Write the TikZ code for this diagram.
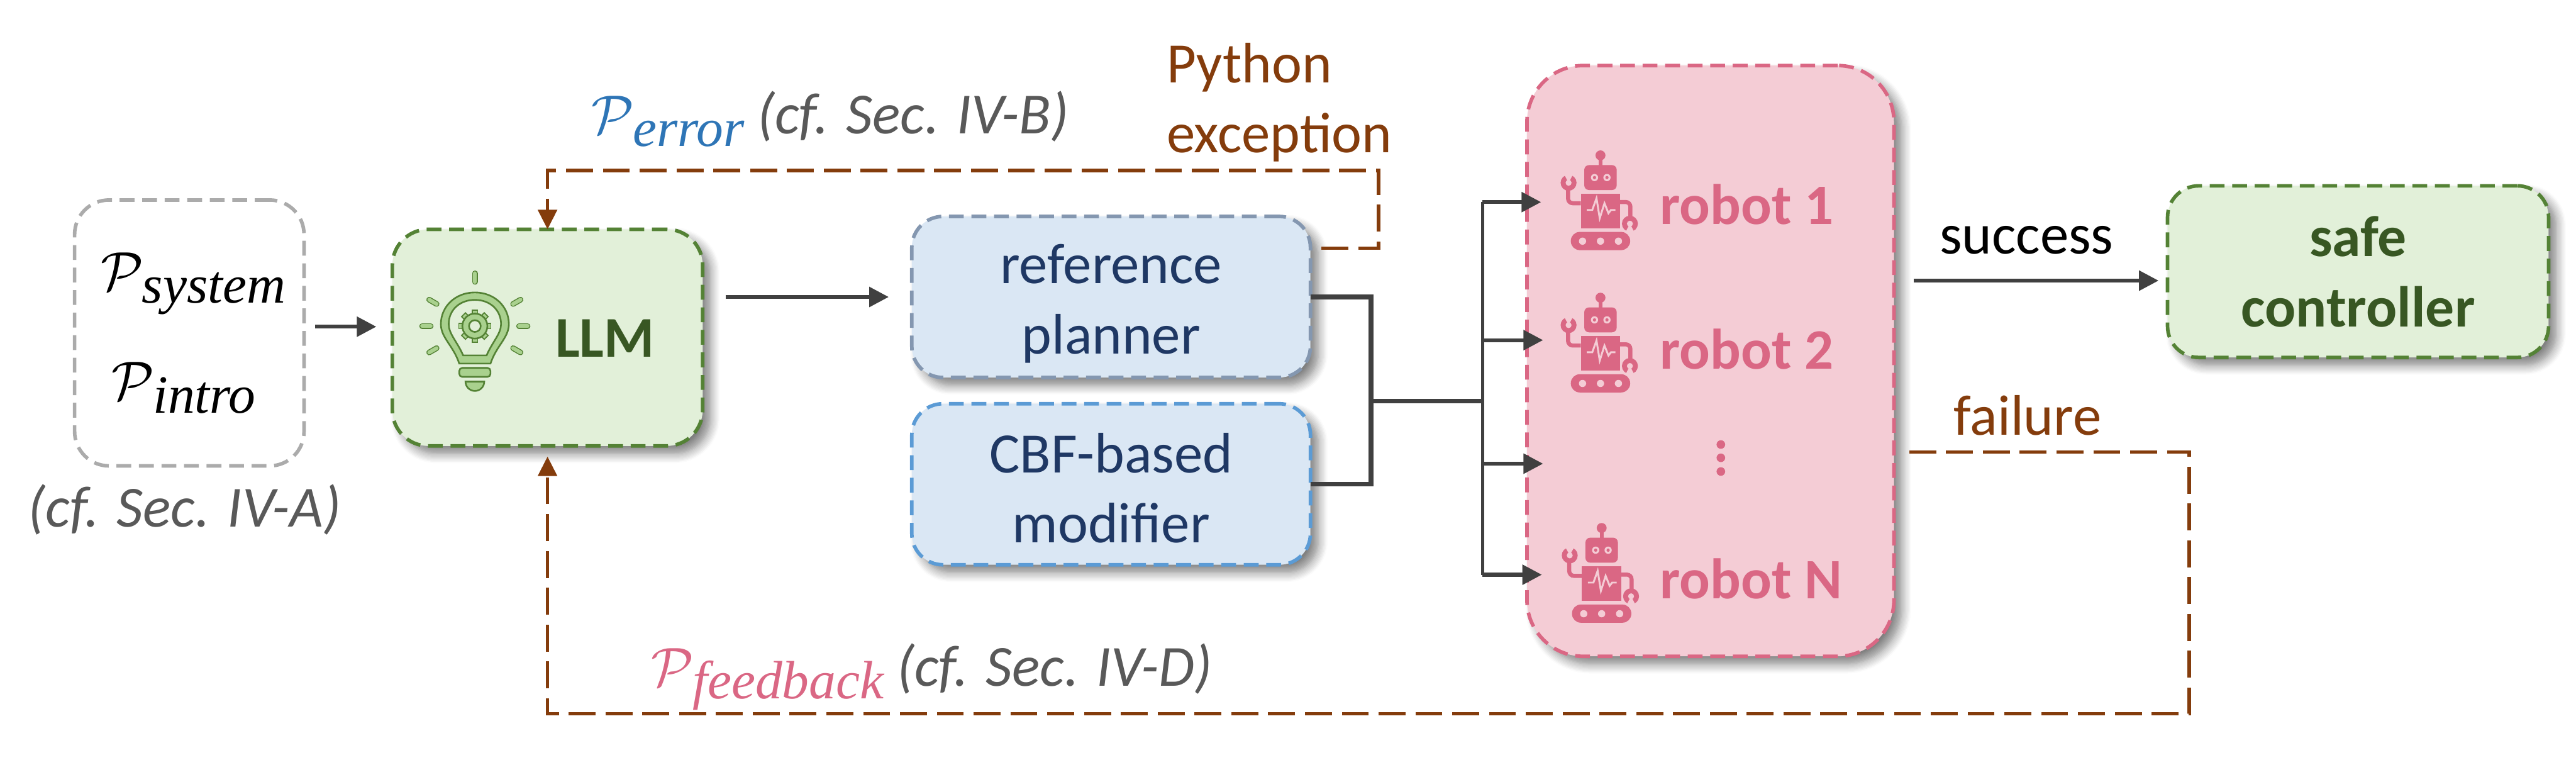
\documentclass[tikz,border=0pt]{standalone}
\usepackage{fontspec}
\setmainfont{Carlito}
\newfontfamily\subfont{Liberation Serif}
\usepackage{tikz}
\usetikzlibrary{positioning, arrows.meta, shadows.blur}
\definecolor{llmfill}{HTML}{E2F0D9}
\definecolor{llmdraw}{HTML}{548235}
\definecolor{llmtext}{HTML}{385723}
\definecolor{bulbfill}{HTML}{A9D18E}
\definecolor{planfill}{HTML}{DAE7F4}
\definecolor{plandraw}{HTML}{8497B0}
\definecolor{cbfdraw}{HTML}{5B9BD5}
\definecolor{plantext}{HTML}{1F3864}
\definecolor{robotfill}{HTML}{F4CCD5}
\definecolor{robotpink}{HTML}{DA6784}
\definecolor{loopbrown}{HTML}{843C0C}
\definecolor{errblue}{HTML}{2E75B6}
\definecolor{secgray}{HTML}{595959}
\definecolor{linegray}{HTML}{404040}
\newcommand{\promptsub}[1]{$\mathcal{P}$\kern-0.3pt\raisebox{-2.3pt}{\fontsize{9.8}{9.8}\subfont\itshape #1}}
\begin{document}
\begin{tikzpicture}[
    every node/.style={inner sep=0pt, outer sep=0pt, font=\fontsize{10.4}{12.8}\selectfont},
    softshadow/.style={blur shadow={shadow xshift=0.05cm, shadow yshift=-0.05cm, shadow blur radius=0.06cm, shadow opacity=50, shadow blur steps=8}},
    boxdash/.style={line width=0.65pt, dash pattern=on 2.7pt off 1.4pt},
    promptbox/.style={rectangle, rounded corners=0.22cm, draw=black!33, boxdash, minimum width=1.4675cm, minimum height=1.7cm, align=center, font=\fontsize{10.4}{20}\selectfont},
    llmbox/.style={rectangle, rounded corners=0.23cm, draw=llmdraw, fill=llmfill, boxdash, softshadow, minimum width=1.985cm, minimum height=1.385cm, align=center},
    planbox/.style={rectangle, rounded corners=0.2cm, draw=plandraw, fill=planfill, boxdash, softshadow, minimum width=2.55cm, minimum height=1.03cm, align=center, text=plantext},
    robotbox/.style={rectangle, rounded corners=0.36cm, draw=robotpink, fill=robotfill, boxdash, softshadow, minimum width=2.3475cm, minimum height=3.7775cm},
    robotname/.style={text=robotpink, font=\fontsize{10.4}{12.8}\selectfont\bfseries, anchor=base west},
    sectext/.style={text=secgray, font=\fontsize{10.6}{12.8}\selectfont\itshape},
    arrow/.style={-{Triangle[length=0.125cm, width=0.125cm]}, line width=0.7pt, linegray},
    thinline/.style={line width=0.6pt, linegray},
    mergeline/.style={line width=0.85pt, linegray},
    loopback/.style={-{Triangle[length=0.125cm, width=0.12cm]}, line width=0.62pt, loopbrown, dash pattern=on 4.9pt off 1.8pt},
    robot/.pic={
        \begin{scope}[x=0.01595cm, y=0.01595cm]
        \fill[robotpink] (0,22.2) circle (2);
        \fill[robotpink] (-0.8,18) rectangle (0.8,22);
        \fill[robotpink, rounded corners=0.03cm] (-6.5,8.3) rectangle (6.5,18.3);
        \foreach \eye in {-2.4,2.6} {
            \fill[robotfill] (\eye,13.3) circle (1.45);
            \fill[robotpink] (\eye,13.3) circle (0.65);
        }
        \fill[robotpink] (-7.9,-7) rectangle (7.9,6.9);
        \draw[robotfill, line width=0.012cm] (-5.5,0.3) -- (-3.3,0.3) -- (-1.6,5) -- (-0.3,-3) -- (1.6,3) -- (3.2,-1) -- (4.2,0.3) -- (6,0.3);
        \draw[robotpink, line width=0.026cm, rounded corners=0.03cm] (-7.9,3) -- (-13,3) -- (-13,9);
        \draw[robotpink, line width=0.026cm, rounded corners=0.03cm] (7.9,3.5) -- (12,3.5) -- (12,-3);
        \fill[robotpink] (-12.8,11.2) circle (3.2);
        \fill[robotfill] (-12.8,11.2) circle (1.2);
        \fill[robotfill] (-12.8,11.2) -- (-14.8,15) -- (-10.8,15) -- cycle;
        \fill[robotpink] (11.8,-5.2) circle (3.2);
        \fill[robotfill] (11.8,-5.2) circle (1.2);
        \fill[robotfill] (11.8,-5.2) -- (9.8,-9) -- (13.8,-9) -- cycle;
        \fill[robotpink, rounded corners=0.057cm] (-11.9,-15.8) rectangle (11.9,-8.5);
        \foreach \wheel in {-7.2,0,7.2} {
            \fill[robotfill] (\wheel,-12.2) circle (1.45);
        }
        \end{scope}
    },
    bulb/.pic={
        \begin{scope}[x=0.025cm, y=0.025cm]
        \foreach \rayangle in {90,30,150,0,180,-30,-150} {
            \draw[llmdraw, line width=0.036cm, line cap=round] (\rayangle:11.3) -- (\rayangle:13.5);
            \draw[bulbfill, line width=0.024cm, line cap=round] (\rayangle:11.3) -- (\rayangle:13.5);
        }
        \draw[llmdraw, fill=bulbfill, line width=0.3pt] (-4,-9.6) .. controls (-5.5,-5) and (-8.7,-3) .. (-8.7,0.5) .. controls (-8.7,5) and (-5,8.6) .. (0,8.6) .. controls (5,8.6) and (8.7,5) .. (8.7,0.5) .. controls (8.7,-3) and (5.5,-5) .. (4,-9.6) -- cycle;
        \draw[llmdraw, fill=llmfill, line width=0.3pt] (-3,-7.5) .. controls (-4.5,-4) and (-6.7,-2) .. (-6.7,0.5) .. controls (-6.7,4) and (-4,6.7) .. (0,6.7) .. controls (4,6.7) and (6.7,4) .. (6.7,0.5) .. controls (6.7,-2) and (4.5,-4) .. (3,-7.5) -- cycle;
        \foreach \tooth in {0,45,...,315} {
            \draw[llmdraw, fill=bulbfill, line width=0.2pt, rotate=\tooth] (-0.7,2.8) rectangle (0.7,4.1);
        }
        \draw[llmdraw, fill=bulbfill, line width=0.3pt] (0,0) circle (3.2);
        \draw[llmdraw, fill=llmfill, line width=0.3pt] (0,0) circle (1.5);
        \draw[llmdraw, fill=bulbfill, line width=0.3pt, rounded corners=0.02cm] (-4,-13) rectangle (4,-10.7);
        \draw[llmdraw, fill=bulbfill, line width=0.3pt] (-2.4,-14.2) arc[start angle=180, end angle=360, radius=2.4] -- cycle;
        \end{scope}
    },
]
\useasboundingbox (0,0) rectangle (16.4775,-4.8575);
% Prompts
\node[promptbox] (prompt) at (1.211,-2.129) {\hspace*{0.05cm}\promptsub{system}\\\promptsub{intro}\hspace*{0.07cm}};
\node[sectext, below=0.12cm of prompt, xshift=-0.03cm] (promptsec) {(cf. Sec. IV-A)};
% LLM
\node[llmbox, right=0.565cm of prompt, yshift=-0.03cm] (llm) {};
\pic (llmbulb) at (3.0375,-2.085) {bulb};
\node[anchor=base, text=llmtext, font=\fontsize{10.5}{12.8}\selectfont\bfseries] (llmname) at (3.87,-2.2825) {LLM};
% Planner
\node[planbox, right=1.3375cm of llm, yshift=0.26cm] (refplan) {\rule{0pt}{9.5pt}reference\\planner};
\node[planbox, draw=cbfdraw, below=0.1675cm of refplan] (cbf) {\rule{0pt}{8.6pt}CBF-based\\modifier};
% Robots
\node[robotbox, right=1.385cm of refplan, yshift=-0.409cm] (robots) {};
\pic (robot1) at (10.2375,-1.3475) {robot};
\pic (robot2) at (10.2375,-2.2575) {robot};
\pic (robotN) at (10.245,-3.73) {robot};
\node[robotname] (name1) at (10.6175,-1.435) {robot 1};
\node[robotname] (name2) at (10.6175,-2.36) {robot 2};
\node[robotname] (nameN) at (10.6175,-3.8275) {robot N};
\foreach \doty in {-2.8425,-2.9275,-3.015} {
    \fill[robotpink] (11.0075,\doty) circle (0.0275);
}
% Safe controller
\node[llmbox, rounded corners=0.2cm, minimum width=2.4375cm, minimum height=1.0975cm, text=llmtext, font=\fontsize{10.5}{12.8}\selectfont\bfseries, right=1.75cm of robots, yshift=0.571cm] (safe) {safe\\controller};
% Labels
\node[anchor=base] (success) at (12.9625,-1.6225) {success};
\node[anchor=base, text=loopbrown] (failure) at (12.97,-2.78) {failure};
\node[anchor=west, align=left, text=loopbrown] (python) at (7.4625,-0.655) {Python\\exception};
\node[anchor=base west, text=errblue] (perror) at (3.785,-0.855) {\promptsub{error} \textcolor{secgray}{\fontsize{10.6}{12.8}\selectfont\itshape(cf. Sec. IV-B)}};
\node[anchor=base west, text=robotpink] (pfeedback) at (4.1675,-4.3875) {\promptsub{feedback} \textcolor{secgray}{\fontsize{10.6}{12.8}\selectfont\itshape(cf. Sec. IV-D)}};
% Coordinates
\coordinate (merge) at (8.77,-2.565);
\coordinate (bus) at (9.4825,-2.565);
\coordinate (tip1) at (9.8575,-1.2925);
\coordinate (tip2) at (9.87,-2.175);
\coordinate (tip3) at (9.87,-2.965);
\coordinate (tipN) at (9.8625,-3.675);
\coordinate (errstart) at (8.4525,-1.5875);
\coordinate (errcorner) at (8.8175,-1.09);
\coordinate (failstart) at (12.2125,-2.89);
\coordinate (failcorner) at (14.0025,-4.565);

\draw[arrow, shorten <=0.0725cm, shorten >=0.1025cm] ([yshift=0.04cm]prompt.east) -- ([yshift=0.04cm]prompt.east -| llm.west);
\draw[arrow, shorten <=0.1475cm, shorten >=0.1475cm] (llm.east |- refplan.west) -- (refplan.west);
\draw[mergeline] (refplan.east) -| (merge);
\draw[mergeline] (cbf.east) -| (merge);
\draw[mergeline] (merge) -- (bus);
\draw[thinline] (bus |- tip1) -- (bus |- tipN);
\draw[arrow] (bus |- tip1) -- (tip1);
\draw[arrow] (bus |- tip2) -- (tip2);
\draw[arrow] (bus |- tip3) -- (tip3);
\draw[arrow] (bus |- tipN) -- (tipN);
\draw[arrow, shorten <=0.1275cm, shorten >=0.0575cm] ([yshift=-0.0575cm]safe.west -| robots.east) -- ([yshift=-0.0575cm]safe.west);
\draw[loopback] (errstart) -| (errcorner) -| (llm.north);
\draw[loopback, shorten >=0.0675cm] (failstart) -| (failcorner) -| (llm.south);
\end{tikzpicture}
\end{document}
